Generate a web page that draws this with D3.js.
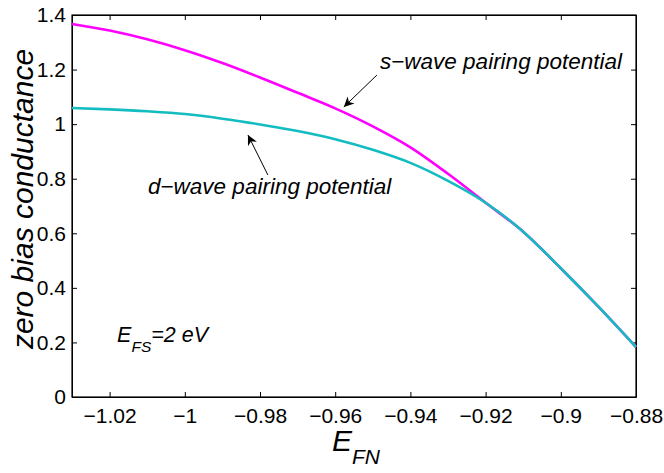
<!DOCTYPE html>
<html>
<head>
<meta charset="utf-8">
<script src="https://cdn.jsdelivr.net/npm/d3@7"></script>
<style>
  body { margin: 0; background: #fff; }
  text { font-family: "Liberation Sans", Arial, sans-serif; }
</style>
</head>
<body>
<div id="chart"></div>
<script>
// Data
const efn = [-1.03, -1.02, -1.01, -1.00, -0.99, -0.98, -0.97, -0.96, -0.95, -0.94, -0.93, -0.92, -0.91, -0.90, -0.89, -0.88];
const sWave = [1.367, 1.343, 1.311, 1.271, 1.224, 1.171, 1.115, 1.058, 0.992, 0.915, 0.818, 0.712, 0.606, 0.472, 0.331, 0.183];
const dWave = [1.059, 1.054, 1.047, 1.037, 1.020, 0.999, 0.975, 0.945, 0.906, 0.858, 0.792, 0.712, 0.606, 0.472, 0.331, 0.183];
const xTicks = [-1.02, -1.00, -0.98, -0.96, -0.94, -0.92, -0.90, -0.88];
const yTicks = [0, 0.2, 0.4, 0.6, 0.8, 1.0, 1.2, 1.4];

const W = 664, H = 473;
const margin = { top: 15, right: 28, bottom: 76, left: 72 };
const width = W - margin.left - margin.right;
const height = H - margin.top - margin.bottom;

const svg = d3.select("#chart")
    .append("svg")
    .attr("width", W)
    .attr("height", H);

const g = svg.append("g")
    .attr("transform", `translate(${margin.left},${margin.top})`);

const x = d3.scaleLinear().domain([-1.03, -0.88]).range([0, width]);
const y = d3.scaleLinear().domain([0, 1.4]).range([height, 0]);

const fmt = d3.format("~g");

// Axes (ticks pointing inward, MATLAB style)
g.append("g")
    .attr("transform", `translate(0,${height})`)
    .call(d3.axisBottom(x).tickValues(xTicks).tickFormat(fmt).tickSizeInner(-5).tickSizeOuter(0).tickPadding(11));
g.append("g")
    .call(d3.axisLeft(y).tickValues(yTicks).tickFormat(fmt).tickSizeInner(-5).tickSizeOuter(0).tickPadding(6));
g.append("g")
    .call(d3.axisTop(x).tickValues(xTicks).tickFormat("").tickSizeInner(-5).tickSizeOuter(0));
g.append("g")
    .attr("transform", `translate(${width},0)`)
    .call(d3.axisRight(y).tickValues(yTicks).tickFormat("").tickSizeInner(-5).tickSizeOuter(0));

g.selectAll(".tick text")
    .style("font-size", "21px")
    .attr("fill", "#000");
g.selectAll(".tick line").attr("stroke", "#000");
g.selectAll(".domain").attr("stroke", "#000");

g.append("rect")
    .attr("width", width)
    .attr("height", height)
    .attr("fill", "none")
    .attr("stroke", "#000")
    .attr("stroke-width", 1.2);

// Curves
const line = d3.line()
    .x((d, i) => x(efn[i]))
    .y(d => y(d))
    .curve(d3.curveMonotoneX);

g.append("path")
    .datum(sWave)
    .attr("d", line)
    .attr("fill", "none")
    .attr("stroke", "#ff00ff")
    .attr("stroke-width", 2.6);

g.append("path")
    .datum(dWave)
    .attr("d", line)
    .attr("fill", "none")
    .attr("stroke", "#12bcc0")
    .attr("stroke-width", 2.6);

// Arrow marker
svg.append("defs").append("marker")
    .attr("id", "arrow")
    .attr("viewBox", "0 0 10 10")
    .attr("refX", 10)
    .attr("refY", 5)
    .attr("markerWidth", 12)
    .attr("markerHeight", 10)
    .attr("markerUnits", "userSpaceOnUse")
    .attr("orient", "auto")
    .append("path")
    .attr("d", "M0,0 L10,5 L0,10 L3,5 Z")
    .attr("fill", "#000");

// Annotations
g.append("line")
    .attr("x1", x(-0.9489)).attr("y1", y(1.18))
    .attr("x2", x(-0.9577)).attr("y2", y(1.063))
    .attr("stroke", "#000").attr("stroke-width", 1)
    .attr("marker-end", "url(#arrow)");

g.append("text")
    .attr("x", x(-0.9481))
    .attr("y", y(1.202))
    .style("font-size", "22.5px")
    .style("font-style", "italic")
    .text("s\u2212wave pairing potential");

g.append("line")
    .attr("x1", x(-0.9779)).attr("y1", y(0.8136))
    .attr("x2", x(-0.9832)).attr("y2", y(0.96))
    .attr("stroke", "#000").attr("stroke-width", 1)
    .attr("marker-end", "url(#arrow)");

g.append("text")
    .attr("x", x(-1.0098))
    .attr("y", y(0.744))
    .style("font-size", "22.5px")
    .style("font-style", "italic")
    .text("d\u2212wave pairing potential");

// E_FS = 2 eV
const efs = g.append("text")
    .attr("x", x(-1.018))
    .attr("y", y(0.2016))
    .style("font-size", "21.5px")
    .style("font-style", "italic");
efs.append("tspan").text("E");
efs.append("tspan").attr("dy", 10).style("font-size", "15.5px").text("FS");
efs.append("tspan").attr("dy", -10).text("=2 eV");

// Axis labels
const xl = svg.append("text")
    .attr("x", 332)
    .attr("y", 451)
    .style("font-size", "30px")
    .style("font-style", "italic");
xl.append("tspan").text("E");
xl.append("tspan").attr("dy", 13).style("font-size", "21px").text("FN");

svg.append("text")
    .attr("transform", "translate(33,199) rotate(-90)")
    .attr("text-anchor", "middle")
    .style("font-size", "30px")
    .style("font-style", "italic")
    .text("zero bias conductance");
</script>
</body>
</html>
